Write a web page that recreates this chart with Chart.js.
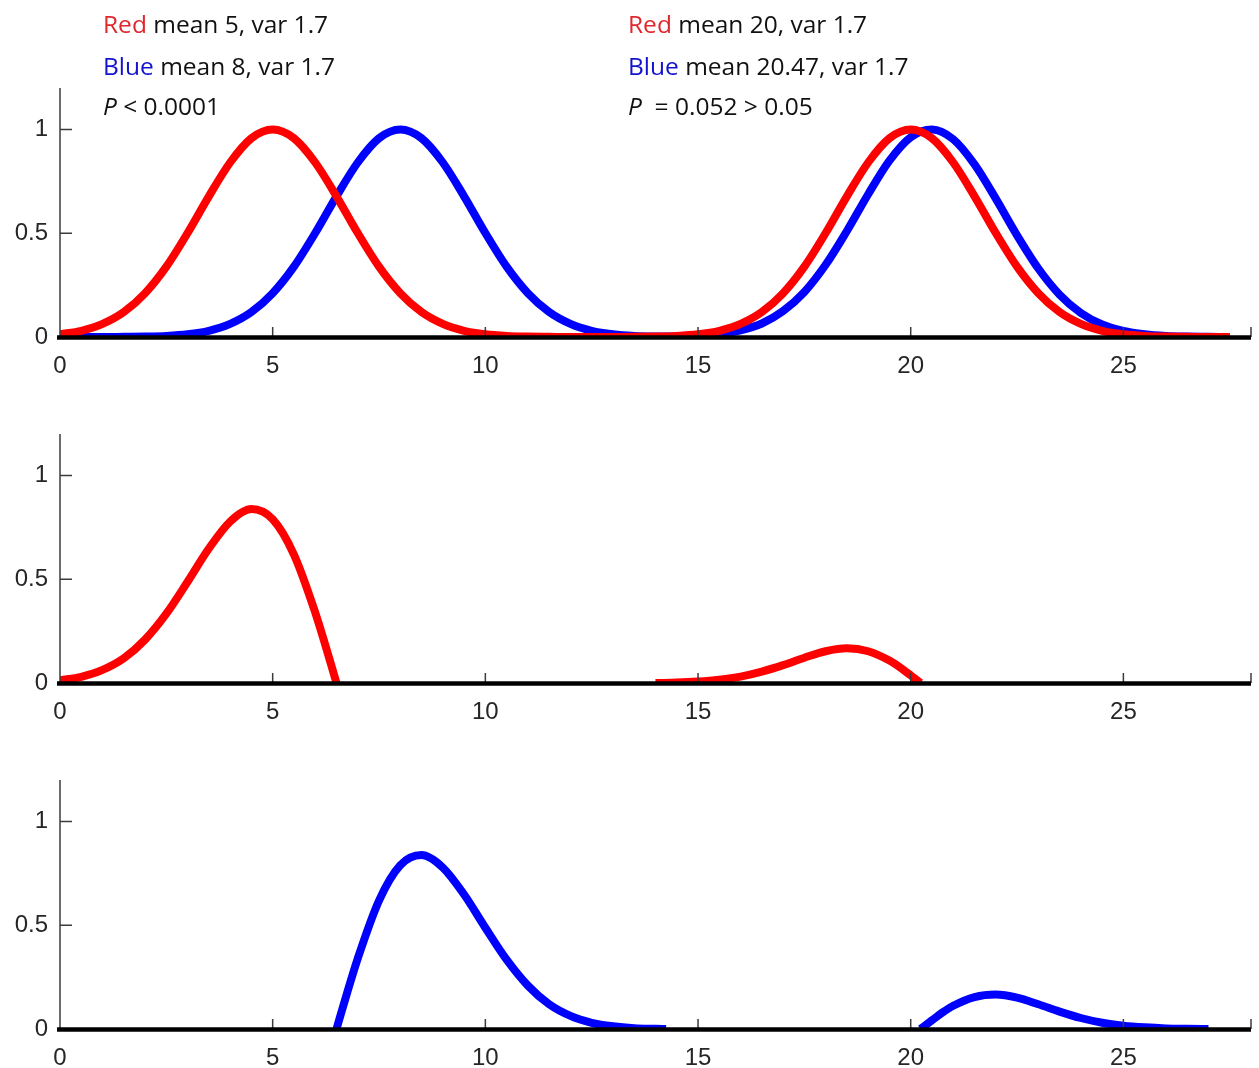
<!DOCTYPE html>
<html>
<head>
<meta charset="utf-8">
<script src="https://cdn.jsdelivr.net/npm/chart.js@4.4.1/dist/chart.umd.min.js"></script>
<style>
	body { margin: 0; background: #fff; overflow: hidden; width: 1259px; height: 1068px; position: relative; }
	canvas { position: absolute; left: 0; }
	.note { position: absolute; font-family: "Open Sans", "Noto Sans", sans-serif; font-size: 24.5px; line-height: 24px; color: #111; white-space: nowrap; }
	.red { color: #e0262e; }
	.blue { color: #1212d0; }
</style>
</head>
<body>
<canvas id="panelTop" width="1259" height="390" style="top:0px"></canvas>
<canvas id="panelRed" width="1259" height="390" style="top:346px"></canvas>
<canvas id="panelBlue" width="1259" height="390" style="top:692px"></canvas>

<div class="note" style="left:103px; top:12px"><span class="red">Red</span> mean 5, var 1.7</div>
<div class="note" style="left:103px; top:54px"><span class="blue">Blue</span> mean 8, var 1.7</div>
<div class="note" style="left:103px; top:94px"><i>P</i> &lt; 0.0001</div>
<div class="note" style="left:628px; top:12px"><span class="red">Red</span> mean 20, var 1.7</div>
<div class="note" style="left:628px; top:54px"><span class="blue">Blue</span> mean 20.47, var 1.7</div>
<div class="note" style="left:628px; top:94px"><i>P</i>&nbsp; = 0.052 &gt; 0.05</div>

<script>
// x positions for the top panel (both curves)
var X_GRID = [0, 0.5, 1, 1.5, 2, 2.5, 3, 3.5, 4, 4.5,
	5, 5.5, 6, 6.5, 7, 7.5, 8, 8.5, 9, 9.5,
	10, 10.5, 11, 11.5, 12, 12.5, 13, 13.5, 14, 14.5,
	15, 15.5, 16, 16.5, 17, 17.5, 18, 18.5, 19, 19.5,
	20, 20.5, 21, 21.5, 22, 22.5, 23, 23.5, 24, 24.5,
	25, 25.5, 26, 26.5, 27, 27.5, 28];

// top panel: red (means 5 and 20), blue (means 8 and 20.47)
var RED_TOP = [0.013, 0.030, 0.063, 0.120, 0.211, 0.339, 0.501, 0.678, 0.841, 0.958,
	1.000, 0.958, 0.841, 0.678, 0.501, 0.339, 0.211, 0.120, 0.063, 0.030,
	0.013, 0.005, 0.002, 0.001, 0, 0, 0, 0.001, 0.002, 0.005,
	0.013, 0.030, 0.063, 0.120, 0.211, 0.339, 0.501, 0.678, 0.841, 0.958,
	1.000, 0.958, 0.841, 0.678, 0.501, 0.339, 0.211, 0.120, 0.063, 0.030,
	0.013, 0.005, 0.002, 0.001, 0, 0, null];
var BLUE_TOP = [0, 0, 0, 0.001, 0.002, 0.005, 0.013, 0.030, 0.063, 0.120,
	0.211, 0.339, 0.501, 0.678, 0.841, 0.958, 1.000, 0.958, 0.841, 0.678,
	0.501, 0.339, 0.211, 0.120, 0.063, 0.030, 0.013, 0.005, 0.003, 0.003,
	0.006, 0.014, 0.032, 0.065, 0.125, 0.217, 0.348, 0.511, 0.688, 0.850,
	0.963, 1.000, 0.953, 0.832, 0.667, 0.490, 0.330, 0.204, 0.116, 0.060,
	0.029, 0.013, 0.005, 0.002, 0.001, 0, null];

// middle panel: where red is above blue
var RED_DIFF_X = [0, 0.5, 1, 1.5, 2, 2.5, 3, 3.5, 4, 4.5, 5, 5.5, 6, 6.25, 6.5,
	10,
	14, 14.5, 15, 15.5, 16, 16.5, 17, 17.5, 18, 18.5, 19, 19.5, 19.75, 20, 20.23];
var RED_DIFF = [0.013, 0.030, 0.063, 0.119, 0.209, 0.334, 0.488, 0.648, 0.778, 0.838, 0.789, 0.619, 0.340, 0.174, 0,
	null,
	0, 0.002, 0.007, 0.016, 0.031, 0.055, 0.086, 0.122, 0.153, 0.167, 0.153, 0.108, 0.075, 0.037, 0];

// bottom panel: where blue is above red
var BLUE_DIFF_X = [6.5, 6.75, 7, 7.5, 8, 8.5, 9, 9.5, 10, 10.5, 11, 11.5, 12, 12.5, 13, 13.5, 14, 14.25,
	17,
	20.23, 20.5, 20.75, 21, 21.5, 22, 22.5, 23, 23.5, 24, 24.5, 25, 25.5, 26, 26.5, 27];
var BLUE_DIFF = [0, 0.174, 0.340, 0.619, 0.789, 0.838, 0.778, 0.648, 0.488, 0.334, 0.209, 0.119, 0.063, 0.030, 0.013, 0.004, 0.001, 0,
	null,
	0, 0.042, 0.080, 0.112, 0.154, 0.166, 0.151, 0.119, 0.084, 0.053, 0.030, 0.016, 0.008, 0.003, 0.001, 0];

var X_TICKS_STEP = 5;
var Y_TICKS_STEP = 0.5;

var RED = '#ff0000';
var BLUE = '#0000ff';

function toPoints(xs, ys) {
	return xs.map(function (x, i) { return { x: x, y: ys[i] }; });
}

// axis lines and inward ticks, drawn over the curves like the original
var innerAxes = {
	id: 'innerAxes',
	afterDatasetsDraw: function (chart) {
		var ctx = chart.ctx;
		var a = chart.chartArea;
		var xs = chart.scales.x;
		var ys = chart.scales.y;
		ctx.save();
		ctx.strokeStyle = '#3c3c3c';
		ctx.lineWidth = 1.5;
		ctx.beginPath();
		ctx.moveTo(a.left, a.top);
		ctx.lineTo(a.left, a.bottom);
		ys.ticks.forEach(function (t) {
			var py = ys.getPixelForValue(t.value);
			ctx.moveTo(a.left, py);
			ctx.lineTo(a.left + 12, py);
		});
		var xt = xs.ticks.map(function (t) { return t.value; });
		xt.push(xs.max);
		xt.forEach(function (v) {
			var px = xs.getPixelForValue(v);
			ctx.moveTo(px, a.bottom);
			ctx.lineTo(px, a.bottom - 10);
		});
		ctx.stroke();
		ctx.strokeStyle = '#000';
		ctx.lineWidth = 4.5;
		ctx.beginPath();
		ctx.moveTo(a.left - 3, a.bottom + 0.5);
		ctx.lineTo(a.right, a.bottom + 0.5);
		ctx.stroke();
		ctx.restore();
	}
};

function plainNumber(value) {
	return String(value);
}

function makePanel(id, datasets) {
	var tickFont = { family: '"Liberation Sans", Arial, sans-serif', size: 24 };
	return new Chart(document.getElementById(id).getContext('2d'), {
		type: 'line',
		data: { datasets: datasets },
		options: {
			responsive: false,
			animation: false,
			layout: { padding: { left: 0, top: 88, right: 8, bottom: 0 } },
			plugins: { legend: { display: false }, tooltip: { enabled: false } },
			elements: { point: { radius: 0 } },
			scales: {
				x: {
					type: 'linear',
					min: 0,
					max: 28,
					grid: { display: false, drawTicks: false },
					border: { display: false },
					ticks: { stepSize: X_TICKS_STEP, includeBounds: false, font: tickFont, color: '#262626', padding: 15, maxRotation: 0, callback: plainNumber },
					afterFit: function (s) { s.height = 53; }
				},
				y: {
					min: 0,
					max: 1.2,
					grid: { display: false, drawTicks: false },
					border: { display: false },
					ticks: { stepSize: Y_TICKS_STEP, includeBounds: false, font: tickFont, color: '#262626', padding: 12, callback: plainNumber },
					afterFit: function (s) { s.width = 60; }
				}
			}
		},
		plugins: [innerAxes]
	});
}

function line(points, color) {
	return {
		data: points,
		borderColor: color,
		borderWidth: 8,
		fill: false,
		spanGaps: false,
		cubicInterpolationMode: 'monotone',
		borderCapStyle: 'butt'
	};
}

makePanel('panelTop', [
	line(toPoints(X_GRID, RED_TOP), RED),
	line(toPoints(X_GRID, BLUE_TOP), BLUE)
]);
makePanel('panelRed', [
	line(toPoints(RED_DIFF_X, RED_DIFF), RED)
]);
makePanel('panelBlue', [
	line(toPoints(BLUE_DIFF_X, BLUE_DIFF), BLUE)
]);
</script>
</body>
</html>
